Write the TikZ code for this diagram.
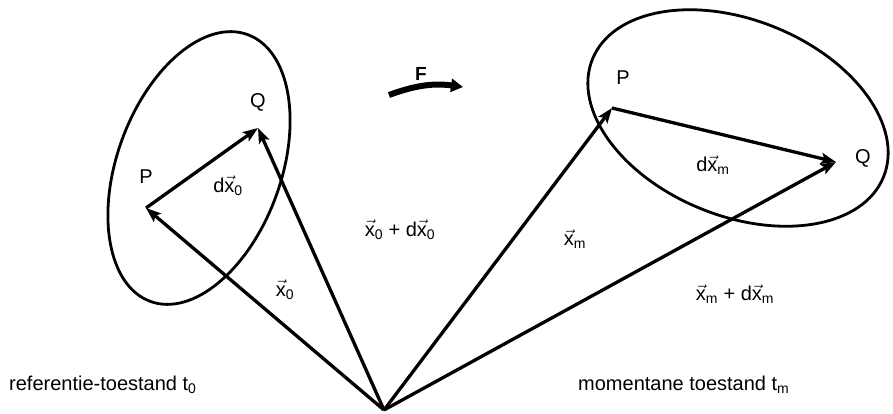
\documentclass[tikz,border=0pt]{standalone}
\usepackage{fontspec}
\usepackage{amsmath}
\setmainfont{Liberation Sans}
\usetikzlibrary{arrows.meta}
\newcommand{\vx}{\vec{\text{x}}}
\begin{document}
\begin{tikzpicture}[x=1pt,y=-1pt,
  vecline/.style={line width=3.3pt,-{Stealth[length=15pt,width=11pt,inset=3pt]}},
  lbl/.style={font=\fontsize{20}{22}\selectfont, inner sep=0pt},
  ell/.style={line width=2.8pt}]
\useasboundingbox (0,0) rectangle (893,413);
\coordinate (O) at (384,410);
\coordinate (P0) at (146,208);
\coordinate (Q0) at (258,128);
\coordinate (Pm) at (612,108);
\coordinate (Qm) at (836,162);
% ellipses
\draw[ell] (199,168) ellipse[x radius=142pt, y radius=82pt, rotate=70];
\draw[ell] (738,118) ellipse[x radius=157pt, y radius=98pt, rotate=-22];
% vectors
\draw[vecline] (O) -- (P0);
\draw[vecline] (O) -- (Q0);
\draw[vecline] (P0) -- (Q0);
\draw[vecline] (O) -- (Pm);
\draw[vecline] (O) -- (Qm);
\draw[vecline] (Pm) -- (Qm);
% F arrow
\coordinate (Fa) at (389,95);
\coordinate (Fb) at (463,87);
\draw[line width=6pt,-{Triangle[length=12pt,width=13pt]}] (Fa) to[bend left=14] (Fb);
\node[lbl,font=\fontsize{19}{20}\selectfont\bfseries] (F) at (421,74) {F};
% labels
\node[lbl] (lP0) at (146,177) {P};
\node[lbl] (lQ0) at (258,102) {Q};
\node[lbl] (lPm) at (623,78) {P};
\node[lbl] (lQm) at (863,158) {Q};
\node[lbl] (ldx0) at (228,186) {d$\vx_{\text{0}}$};
\node[lbl] (lsum0) at (400,230) {$\vx_{\text{0}}$ + d$\vx_{\text{0}}$};
\node[lbl] (lx0) at (285,290) {$\vx_{\text{0}}$};
\node[lbl] (ldxm) at (713,165) {d$\vx_{\text{m}}$};
\node[lbl] (lxm) at (575,239) {$\vx_{\text{m}}$};
\node[lbl] (lsumm) at (735,294) {$\vx_{\text{m}}$ + d$\vx_{\text{m}}$};
\node[lbl,anchor=west] (ref) at (9,385) {referentie-toestand t$_{\text{0}}$};
\node[lbl,anchor=west] (mom) at (578,385) {momentane toestand t$_{\text{m}}$};
\end{tikzpicture}
\end{document}
